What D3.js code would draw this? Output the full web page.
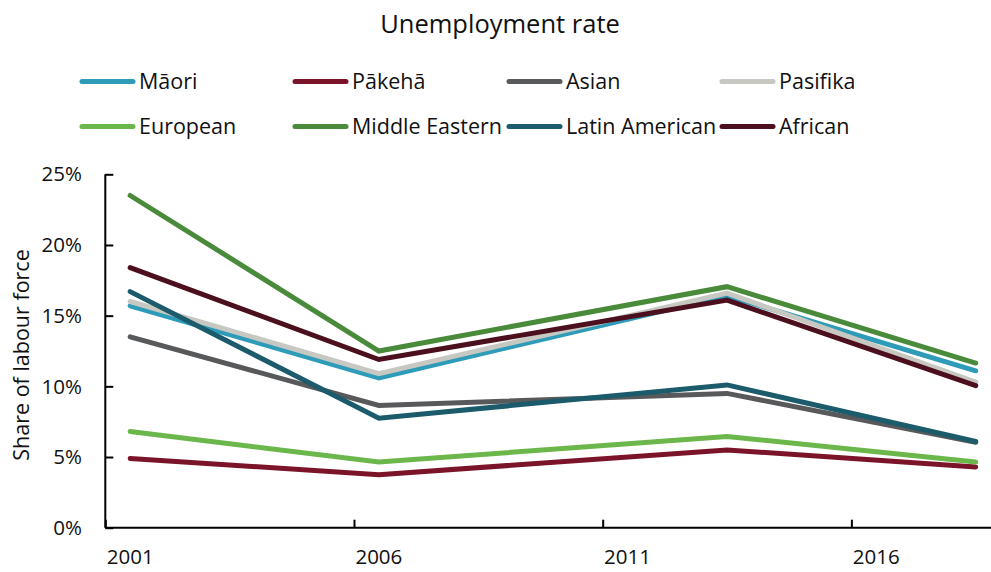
<!DOCTYPE html>
<html>
<head>
<meta charset="utf-8">
<script src="https://cdn.jsdelivr.net/npm/d3@7"></script>
<style>
  html, body { margin: 0; padding: 0; background: #fff; }
  svg { display: block; font-family: "Open Sans", "Noto Sans", sans-serif; }
</style>
</head>
<body>
<svg id="chart" width="991" height="572"></svg>
<script>
// Census years; points are placed at the middle of each year band
const years = [2001, 2006, 2013, 2018];
const seriesNames = ["Māori", "Pākehā", "Asian", "Pasifika", "European", "Middle Eastern", "Latin American", "African"];
const seriesColors = ["#2e9bb9", "#7c1429", "#58595b", "#c8c8c3", "#6cb74b", "#4a8a3b", "#1c5b6b", "#4c0f1e"];

// Unemployment rate (%) by ethnic group
const maori        = [15.7, 10.6, 16.4, 11.1];
const pakeha       = [4.9, 3.75, 5.5, 4.3];
const asian        = [13.5, 8.65, 9.5, 6.05];
const pasifika     = [16.0, 10.9, 16.6, 10.3];
const european     = [6.8, 4.65, 6.45, 4.65];
const middleEastern= [23.5, 12.5, 17.05, 11.65];
const latinAmerican= [16.7, 7.75, 10.1, 6.1];
const african      = [18.4, 11.9, 16.1, 10.05];
const seriesValues = [maori, pakeha, asian, pasifika, european, middleEastern, latinAmerican, african];

const yTicks = [0, 5, 10, 15, 20, 25];
const xTicks = [2001, 2006, 2011, 2016];

const svg = d3.select("#chart");
const W = 991, H = 572;

const x = d3.scaleLinear().domain([2001, 2019]).range([105.3, 1000.6]);
const y = d3.scaleLinear().domain([0, 25]).range([527.7, 174.3]);

// Title
svg.append("text")
  .attr("x", 500).attr("y", 33)
  .attr("text-anchor", "middle")
  .attr("font-size", 25.5)
  .attr("fill", "#111")
  .text("Unemployment rate");

// Legend: two rows of four
const legendCols = [80, 293, 507, 720];
const legendRows = [81.5, 126.5];
const legend = svg.append("g");
seriesNames.forEach((name, i) => {
  const cx = legendCols[i % 4], cy = legendRows[Math.floor(i / 4)];
  legend.append("line")
    .attr("x1", cx + 2).attr("x2", cx + 53)
    .attr("y1", cy).attr("y2", cy)
    .attr("stroke", seriesColors[i]).attr("stroke-width", 5)
    .attr("stroke-linecap", "round");
  legend.append("text")
    .attr("x", cx + 59).attr("y", cy)
    .attr("dy", "0.35em")
    .attr("font-size", 21.5)
    .attr("fill", "#111")
    .text(name);
});

// Y axis
const yAxis = svg.append("g").attr("transform", `translate(${x(2001)},0)`)
  .call(d3.axisRight(y).tickValues(yTicks).tickSize(8).tickFormat(""));
yAxis.select(".domain").attr("stroke", "#000").attr("stroke-width", 2)
  .attr("d", `M0,${y(0)}V${y(25)}`);
yAxis.selectAll(".tick line").attr("stroke", "#000").attr("stroke-width", 2);
svg.append("g").selectAll("text").data(yTicks).join("text")
  .attr("x", 82).attr("y", d => y(d))
  .attr("dy", "0.35em")
  .attr("text-anchor", "end")
  .attr("font-size", 20.5)
  .attr("fill", "#111")
  .text(d => d + "%");

// X axis
const xAxis = svg.append("g").attr("transform", `translate(0,${y(0)})`)
  .call(d3.axisTop(x).tickValues(xTicks).tickSize(8).tickFormat(""));
xAxis.select(".domain").attr("stroke", "#000").attr("stroke-width", 2)
  .attr("d", `M${x(2001)},0H${W}`);
xAxis.selectAll(".tick line").attr("stroke", "#000").attr("stroke-width", 2);
svg.append("g").selectAll("text").data(xTicks).join("text")
  .attr("x", d => x(d + 0.5)).attr("y", 557)
  .attr("dy", "0.35em")
  .attr("text-anchor", "middle")
  .attr("font-size", 20.5)
  .attr("fill", "#111")
  .text(d => d);

// Y axis title
svg.append("text")
  .attr("transform", `translate(21,${(y(0) + y(25)) / 2 + 4}) rotate(-90)`)
  .attr("text-anchor", "middle")
  .attr("dy", "0.35em")
  .attr("font-size", 21.5)
  .attr("fill", "#111")
  .text("Share of labour force");

// Series lines
const line = d3.line().x((d, i) => x(years[i] + 0.5)).y(d => y(d));
svg.append("g").selectAll("path").data(seriesValues).join("path")
  .attr("d", line)
  .attr("fill", "none")
  .attr("stroke", (d, i) => seriesColors[i])
  .attr("stroke-width", 5)
  .attr("stroke-linejoin", "miter")
  .attr("stroke-linecap", "round");
</script>
</body>
</html>
